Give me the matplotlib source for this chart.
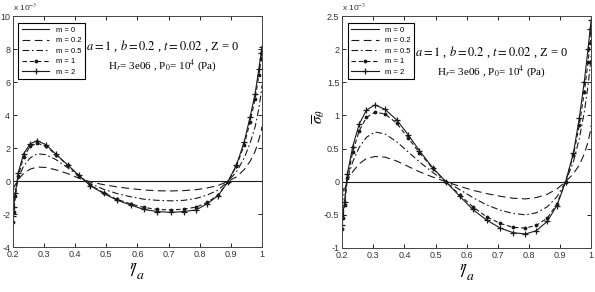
import numpy as np
import matplotlib
matplotlib.use('Agg')
import matplotlib.pyplot as plt

plt.rcParams['font.family'] = 'Liberation Sans'
plt.rcParams['mathtext.fontset'] = 'stix'
plt.rcParams['axes.unicode_minus'] = False

# radial grid r/a (marker positions)
r = [0.200, 0.202, 0.208, 0.217, 0.234, 0.255, 0.278, 0.306, 0.338, 0.376,
     0.412, 0.448, 0.491, 0.533, 0.578, 0.620, 0.664, 0.708, 0.749, 0.789,
     0.824, 0.859, 0.890, 0.918, 0.943, 0.962, 0.978, 0.990, 0.997, 1.000]

labels = ['m = 0', 'm = 0.2', 'm = 0.5', 'm = 1', 'm = 2']

# left panel, sigma_r (x 1e-3)
sr_m0 = [0.0] * 30
sr_m02 = [-0.55, -0.4, -0.2, 0.1, 0.45, 0.72, 0.85, 0.82, 0.68, 0.45,
          0.17, -0.05, -0.22, -0.35, -0.46, -0.54, -0.59, -0.6, -0.58, -0.52,
          -0.42, -0.27, -0.02, 0.25, 0.7, 1.2, 1.8, 2.5, 3.0, 3.3]
sr_m05 = [-1.1, -0.85, -0.4, 0.2, 0.9, 1.4, 1.65, 1.6, 1.3, 0.8,
          0.3, -0.15, -0.5, -0.75, -0.95, -1.1, -1.17, -1.2, -1.17, -1.05,
          -0.85, -0.55, -0.02, 0.55, 1.4, 2.3, 3.3, 4.4, 5.3, 5.8]
sr_m1 = [-2.5, -1.9, -0.9, 0.3, 1.45, 2.1, 2.3, 2.1, 1.6, 0.95,
         0.33, -0.25, -0.7, -1.1, -1.38, -1.6, -1.72, -1.75, -1.7, -1.58,
         -1.3, -0.85, -0.05, 0.9, 2.2, 3.6, 5.0, 6.4, 7.4, 7.8]
sr_m2 = [-2.1, -1.6, -0.7, 0.5, 1.65, 2.25, 2.45, 2.2, 1.63, 0.97,
         0.34, -0.28, -0.75, -1.15, -1.45, -1.72, -1.85, -1.9, -1.85, -1.75,
         -1.37, -0.89, -0.06, 0.97, 2.38, 3.9, 5.3, 6.8, 7.74, 8.14]

# right panel, sigma_theta (x 1e-3)
st_m0 = [0.0] * 30
st_m02 = [-0.2, -0.15, -0.08, 0.03, 0.15, 0.27, 0.35, 0.38, 0.37, 0.31,
          0.23, 0.15, 0.07, 0.0, -0.07, -0.13, -0.18, -0.22, -0.25, -0.26,
          -0.24, -0.19, -0.11, 0.0, 0.12, 0.25, 0.42, 0.6, 0.75, 0.85]
st_m05 = [-0.35, -0.28, -0.15, 0.05, 0.3, 0.52, 0.67, 0.75, 0.72, 0.6,
          0.45, 0.3, 0.14, 0.0, -0.12, -0.24, -0.35, -0.43, -0.48, -0.5,
          -0.47, -0.38, -0.23, 0.0, 0.3, 0.65, 1.05, 1.45, 1.75, 1.9]
st_m1 = [-0.72, -0.55, -0.35, 0.05, 0.45, 0.77, 0.97, 1.05, 1.02, 0.88,
         0.66, 0.44, 0.2, 0.0, -0.2, -0.38, -0.53, -0.63, -0.69, -0.7,
         -0.66, -0.55, -0.34, 0.0, 0.4, 0.85, 1.35, 1.8, 2.1, 2.25]
st_m2 = [-0.65, -0.5, -0.3, 0.12, 0.53, 0.87, 1.08, 1.16, 1.09, 0.93,
         0.71, 0.47, 0.21, 0.0, -0.22, -0.42, -0.58, -0.7, -0.77, -0.79,
         -0.74, -0.6, -0.36, 0.0, 0.43, 0.96, 1.51, 2.0, 2.31, 2.44]

left_yticks = [-4, -2, 0, 2, 4, 6, 8, 10]
right_yticks = [-1, -0.5, 0, 0.5, 1, 1.5, 2, 2.5]
xticks = [0.2, 0.3, 0.4, 0.5, 0.6, 0.7, 0.8, 0.9, 1.0]

styles = [
    dict(ls='-', lw=0.8),
    dict(ls=(0, (7, 4)), lw=0.8),
    dict(ls=(0, (6, 2.5, 1.5, 2.5)), lw=0.8),
    dict(ls=(0, (4, 2.5)), lw=0.8, marker='.', ms=3.5),
    dict(ls='-', lw=0.8, marker='+', ms=5, mew=0.9),
]

line1 = r'$a = 1$ , $b = 0.2$ , $t = 0.02$ , Z = 0'
line2 = r'H$_r$= 3e06 , P$_0$= 10$^4$ (Pa)'


def draw_panel(ax, series, yticks, txt_pos):
    for vals, lab, st in zip(series, labels, styles):
        ax.plot(r, vals, color='#1a1a1a', label=lab, **st)
    ax.set_xlim(0.2, 1.0)
    ax.set_ylim(yticks[0], yticks[-1])
    ax.set_xticks(xticks)
    ax.set_xticklabels(['%g' % v for v in xticks])
    ax.set_yticks(yticks)
    ax.set_yticklabels(['%g' % v for v in yticks])
    ax.tick_params(direction='in', top=True, right=True, length=3, width=0.6,
                   labelsize=6.5, labelcolor='#333333', pad=2)
    for s in ax.spines.values():
        s.set_linewidth(0.7)
        s.set_color('#444444')
    ax.text(0.0, 1.015, r'x 10$^{-3}$', transform=ax.transAxes, ha='left',
            va='bottom', fontsize=6, color='#333333')
    leg = ax.legend(loc='upper left', fontsize=5.5, handlelength=3.6,
                    fancybox=False, framealpha=1, edgecolor='black',
                    borderpad=0.45, labelspacing=0.42, handletextpad=0.9,
                    borderaxespad=0, bbox_to_anchor=(0.022, 0.97))
    leg.get_frame().set_linewidth(0.8)
    ax.text(txt_pos[0], txt_pos[1], line1, transform=ax.transAxes,
            ha='center', va='center', fontsize=9, family='Liberation Serif')
    ax.text(txt_pos[0], txt_pos[1] - 0.085, line2, transform=ax.transAxes,
            ha='center', va='center', fontsize=8, family='Liberation Serif')
    ax.set_xlabel(r'$^{r}\!\!/_{a}$', fontsize=14, labelpad=2)


fig = plt.figure(figsize=(5.95, 2.92), dpi=100)
ax1 = fig.add_axes([0.0218, 0.154, 0.4185, 0.791])
ax2 = fig.add_axes([0.575, 0.151, 0.4185, 0.794])

draw_panel(ax1, [sr_m0, sr_m02, sr_m05, sr_m1, sr_m2], left_yticks, (0.6, 0.87))
draw_panel(ax2, [st_m0, st_m02, st_m05, st_m1, st_m2], right_yticks, (0.6, 0.845))

fig.text(-0.012, 0.57, r'$\overline{\sigma}_r$', fontsize=11, rotation=90,
         ha='center', va='center')
fig.text(0.536, 0.6, r'$\overline{\sigma}_\theta$', fontsize=11, rotation=90,
         ha='center', va='center')

fig.savefig('out.png', dpi=100)
